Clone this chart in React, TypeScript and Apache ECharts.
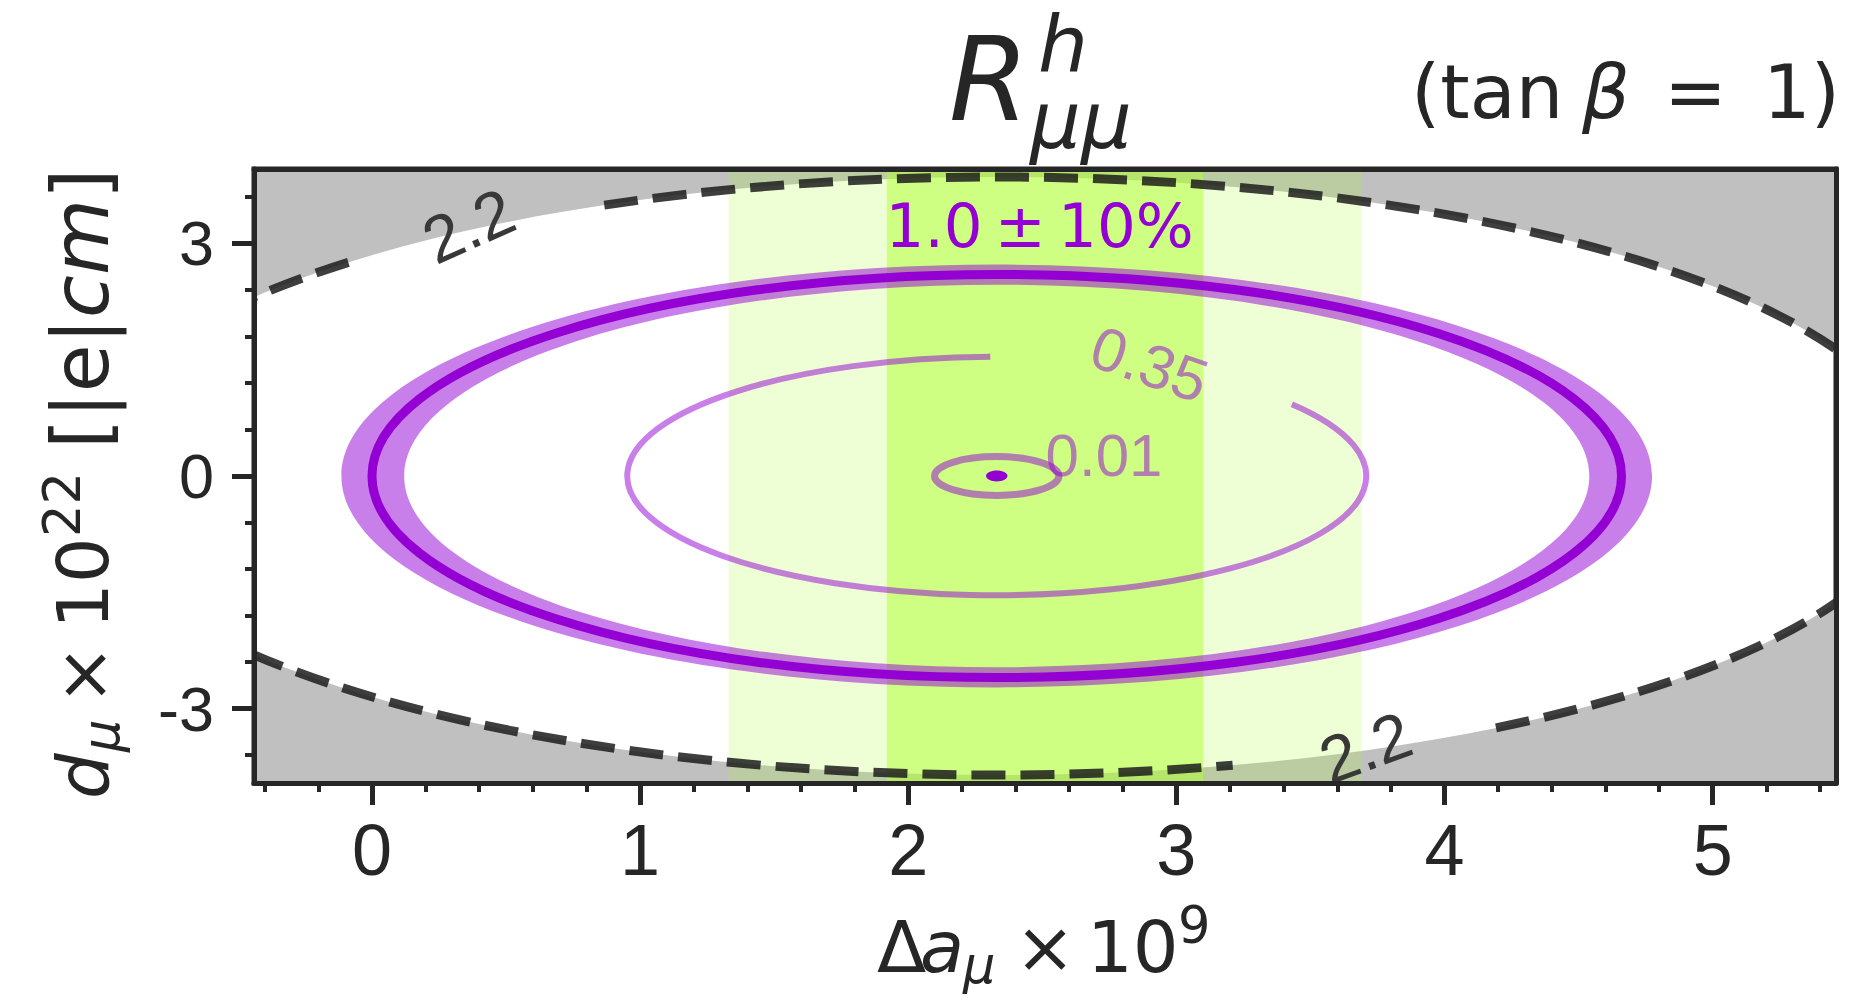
import React, { useEffect, useRef } from 'react';
import * as echarts from 'echarts';

// ---- axes ----
const xRange = [-0.44, 5.46];
const yRange = [-3.96, 3.96];
const xTicks = [0, 1, 2, 3, 4, 5];
const yTicks = [-3, 0, 3];

// ---- contour ellipses of R (centre and semi-axes) ----
const center = [2.33, 0];
const levelNames = ['0.01', '0.35', '1.0', '2.2'];
const levelRx = [0.232, 1.378, 2.33, 3.456];
const levelRy = [0.25, 1.538, 2.6, 3.857];
// R = 0.9 and R = 1.1 (the ±10% band)
const bandRx = [2.21, 2.444];
const bandRy = [2.467, 2.727];
// tiny filled minimum
const dotRxy = [0.04, 0.07];

// ---- Δa_μ bands (1σ and 2σ) ----
const sigma1 = [1.92, 3.1];
const sigma2 = [1.33, 3.69];

// drawn parametric-angle spans (deg) of contours interrupted by labels
const arcs035 = [[91, 397]];
const arcs22 = [[-57.4, 115.5], [134.4, 284.75]];

// ---- inline labels ----
const labelTexts = ['2.2', '2.2', '0.35', '0.01', '1.0\u2009±\u200910%'];
const labelX = [0.36, 3.705, 2.9, 2.73, 2.49];
const labelY = [3.23, -3.5, 1.44, 0.27, 3.23];
const labelRot = [24, 20, -19, 0, 0];
const labelColor = ['#383838', '#383838', 'rgba(148,0,211,0.5)', 'rgba(148,0,211,0.5)', '#9400d3'];
const labelSize = [66, 66, 61, 60, 61];
const labelFamily = ['Liberation Sans', 'Liberation Sans', 'Liberation Sans', 'Liberation Sans', 'DejaVu Sans'];

const INK = '#262626';
const SHIFT = 0.346;

function arcPath(cx: number, cy: number, rx: number, ry: number, t0: number, t1: number, move = true) {
  const n = Math.max(1, Math.ceil(Math.abs(t1 - t0) / 45));
  const step = ((t1 - t0) / n) * Math.PI / 180;
  let a = (t0 * Math.PI) / 180;
  const pt = (u: number, v: number) => `${(cx + rx * u).toFixed(2)} ${(cy - ry * v).toFixed(2)}`;
  let d = (move ? 'M' : 'L') + pt(Math.cos(a), Math.sin(a));
  const k = (4 / 3) * Math.tan(step / 4);
  for (let i = 0; i < n; i++) {
    const b = a + step;
    const c1u = Math.cos(a) - k * Math.sin(a);
    const c1v = Math.sin(a) + k * Math.cos(a);
    const c2u = Math.cos(b) + k * Math.sin(b);
    const c2v = Math.sin(b) - k * Math.cos(b);
    d += 'C' + pt(c1u, c1v) + ' ' + pt(c2u, c2v) + ' ' + pt(Math.cos(b), Math.sin(b));
    a = b;
  }
  return d;
}

function txt(text: string, x: number, base: number, size: number, opts: any = {}) {
  return {
    type: 'text',
    x,
    y: base - SHIFT * size,
    silent: true,
    style: {
      text,
      fontSize: size,
      fontFamily: opts.family || 'DejaVu Sans',
      fontStyle: opts.italic ? 'italic' : 'normal',
      fill: opts.fill || INK,
      align: opts.align || 'left',
      verticalAlign: 'middle',
    },
  };
}

function buildOption() {
  const ellipseSeries = (name: string, data: any[], render: any, z = 2, clip = true) => ({
    type: 'custom', name, data, renderItem: render, clip, silent: true, z,
    xAxisIndex: 0, yAxisIndex: 0,
  });

  const greyRegion = ellipseSeries('grey', [[center[0], center[1], levelRx[3], levelRy[3]]], (p: any, api: any) => {
    const c = api.coord([api.value(0), api.value(1)]);
    const s = api.size([api.value(2), api.value(3)]);
    const tl = api.coord([xRange[0], yRange[1]]);
    const br = api.coord([xRange[1], yRange[0]]);
    const d = `M${tl[0]} ${tl[1]}L${br[0]} ${tl[1]}L${br[0]} ${br[1]}L${tl[0]} ${br[1]}Z` +
      arcPath(c[0], c[1], s[0], s[1], 0, 360) + 'Z';
    return { type: 'path', shape: { pathData: d }, style: { fill: '#c0c0c0', stroke: null } };
  });

  const greenColors = ['rgba(173,255,47,0.2)', 'rgba(173,255,47,0.5)'];
  const greenBands = ellipseSeries('bands', [[sigma2[0], sigma2[1], 0], [sigma1[0], sigma1[1], 1]], (p: any, api: any) => {
    const a = api.coord([api.value(0), yRange[1]]);
    const b = api.coord([api.value(1), yRange[0]]);
    return {
      type: 'rect',
      shape: { x: a[0], y: a[1], width: b[0] - a[0], height: b[1] - a[1] },
      style: { fill: greenColors[api.value(2)], stroke: null },
    };
  });

  const dashed = ellipseSeries('2.2', arcs22.map((s) => [center[0], center[1], levelRx[3], levelRy[3], s[0], s[1]]), (p: any, api: any) => {
    const c = api.coord([api.value(0), api.value(1)]);
    const s = api.size([api.value(2), api.value(3)]);
    return {
      type: 'path',
      shape: { pathData: arcPath(c[0], c[1], s[0], s[1], api.value(4), api.value(5)) },
      style: { fill: 'none', stroke: 'rgba(28,28,28,0.85)', lineWidth: 9, lineDash: [34, 15], lineCap: 'butt' },
    };
  });

  const ring = ellipseSeries('band', [[center[0], center[1], bandRx[1], bandRy[1], bandRx[0], bandRy[0]]], (p: any, api: any) => {
    const c = api.coord([api.value(0), api.value(1)]);
    const so = api.size([api.value(2), api.value(3)]);
    const si = api.size([api.value(4), api.value(5)]);
    const d = arcPath(c[0], c[1], so[0], so[1], 0, 360) + 'Z' + arcPath(c[0], c[1], si[0], si[1], 360, 0) + 'Z';
    return { type: 'path', shape: { pathData: d }, style: { fill: 'rgba(148,0,211,0.5)', stroke: null } };
  });

  const lineStyles = [
    { stroke: 'rgba(148,0,211,0.5)', lineWidth: 7 },
    { stroke: 'rgba(148,0,211,0.5)', lineWidth: 6 },
    { stroke: '#9400d3', lineWidth: 9 },
  ];
  const contourData: any[] = [
    [center[0], center[1], levelRx[0], levelRy[0], 0, 360, 0],
    ...arcs035.map((s) => [center[0], center[1], levelRx[1], levelRy[1], s[0], s[1], 1]),
    [center[0], center[1], levelRx[2], levelRy[2], 0, 360, 2],
  ];
  const contours = ellipseSeries('contours', contourData, (p: any, api: any) => {
    const c = api.coord([api.value(0), api.value(1)]);
    const s = api.size([api.value(2), api.value(3)]);
    const full = api.value(5) - api.value(4) >= 360;
    const d = arcPath(c[0], c[1], s[0], s[1], api.value(4), api.value(5)) + (full ? 'Z' : '');
    return { type: 'path', shape: { pathData: d }, style: { fill: 'none', lineCap: 'butt', ...lineStyles[api.value(6)] } };
  });

  const dot = ellipseSeries('dot', [[center[0], center[1], dotRxy[0], dotRxy[1]]], (p: any, api: any) => {
    const c = api.coord([api.value(0), api.value(1)]);
    const s = api.size([api.value(2), api.value(3)]);
    return { type: 'ellipse', shape: { cx: c[0], cy: c[1], rx: s[0], ry: s[1] }, style: { fill: '#9400d3', stroke: null } };
  });

  const labels = ellipseSeries('labels', labelTexts.map((t, i) => [labelX[i], labelY[i], i]), (p: any, api: any) => {
    const i = api.value(2);
    const c = api.coord([api.value(0), api.value(1)]);
    return {
      type: 'text', x: c[0], y: c[1], rotation: (labelRot[i] * Math.PI) / 180,
      style: {
        text: labelTexts[i], fill: labelColor[i], fontSize: labelSize[i], fontFamily: labelFamily[i],
        align: 'center', verticalAlign: 'middle',
      },
    };
  }, 3, false);

  const axisCommon = {
    type: 'value',
    z: 10,
    splitLine: { show: false },
    axisLine: { show: true, onZero: false, lineStyle: { color: INK, width: 5 } },
  };

  // y-axis title (rotated group), local x = 477 - screenY
  const yTitle = {
    type: 'group', x: 108, y: 477, rotation: Math.PI / 2, silent: true,
    children: [
      txt('d', -322, 0, 72, { italic: true }),
      txt('μ', -275, 11, 51, { italic: true }),
      txt('×', -228, 0, 72),
      txt('10', -152, 0, 72),
      txt('22', -60, -28, 51),
      txt('[|e|', 28, 0, 78),
      txt('cm', 159, 0, 78, { italic: true }),
      txt(']', 278, 0, 78),
    ],
  };

  return {
    animation: false,
    backgroundColor: '#ffffff',
    grid: {
      left: 254, right: 33, top: 169, bottom: 225, containLabel: false, outerBoundsMode: 'none',
      show: true, borderColor: INK, borderWidth: 5, backgroundColor: 'transparent',
    },
    xAxis: [
      {
        ...axisCommon, min: xRange[0], max: xRange[1], splitNumber: 5, position: 'bottom',
        axisTick: { show: true, length: 22, customValues: xTicks, lineStyle: { color: INK, width: 5 } },
        minorTick: { show: true, splitNumber: 5, length: 9, lineStyle: { color: INK, width: 4 } },
        axisLabel: { show: true, customValues: xTicks, margin: 31, fontSize: 72, fontFamily: 'Liberation Sans', color: INK },
      },
      {
        ...axisCommon, min: xRange[0], max: xRange[1], position: 'top',
        axisTick: { show: false }, axisLabel: { show: false },
      },
    ],
    yAxis: [
      {
        ...axisCommon, min: yRange[0], max: yRange[1], splitNumber: 3, position: 'left',
        axisTick: { show: true, length: 22, customValues: yTicks, lineStyle: { color: INK, width: 5 } },
        minorTick: { show: true, splitNumber: 5, length: 9, lineStyle: { color: INK, width: 4 } },
        axisLabel: {
          show: true, customValues: yTicks, margin: 40, fontSize: 63, fontFamily: 'Liberation Sans', color: INK,
          formatter: (v: number) => (v < 0 ? '-' + Math.abs(v) : String(v)),
        },
      },
      {
        ...axisCommon, min: yRange[0], max: yRange[1], position: 'right',
        axisTick: { show: false }, axisLabel: { show: false },
      },
    ],
    series: [greyRegion, greenBands, dashed, ring, contours, dot, labels],
    graphic: {
      elements: [
        // title R^h_{μμ}
        txt('R', 949, 120, 115, { italic: true }),
        txt('h', 1038, 72, 79, { italic: true }),
        txt('μμ', 1030, 148, 80, { italic: true }),
        // (tan β = 1)
        txt('(tan', 1411, 118, 75),
        txt('β', 1582, 118, 75, { italic: true }),
        txt('=', 1664, 118, 75),
        txt('1)', 1840, 118, 75, { align: 'right' }),
        // x-axis title Δa_μ × 10^9
        txt('Δ', 877, 972, 72),
        txt('a', 920, 972, 72, { italic: true }),
        txt('μ', 963, 983, 51, { italic: true }),
        txt('×', 1015, 972, 72),
        txt('10', 1087, 972, 72),
        txt('9', 1178, 943, 51),
        yTitle,
      ],
    },
  };
}

export default function App() {
  const ref = useRef<HTMLDivElement>(null);
  useEffect(() => {
    const chart = echarts.init(ref.current as HTMLDivElement, null, { renderer: 'svg' });
    chart.setOption(buildOption() as any);
    return () => chart.dispose();
  }, []);
  return (
    <div
      ref={ref}
      style={{ position: 'fixed', left: 0, top: 0, width: 1869, height: 1008, background: '#ffffff' }}
    />
  );
}
